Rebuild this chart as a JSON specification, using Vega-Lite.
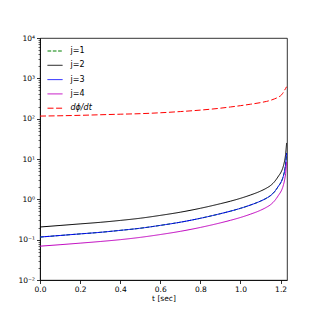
{
  "$schema": "https://vega.github.io/schema/vega-lite/v6.json",
  "autosize": "none",
  "width": 247,
  "height": 242,
  "padding": {"left": 40, "top": 38, "right": 33, "bottom": 40},
  "background": "white",
  "config": {
    "font": "DejaVu Sans",
    "view": {"stroke": "black", "strokeWidth": 0.8},
    "axis": {"grid": false, "labelFlush": false, "domainColor": "black", "domainWidth": 0.8, "tickColor": "black", "tickWidth": 0.8, "labelColor": "black", "labelFont": "DejaVu Sans", "titleFont": "DejaVu Sans", "titleColor": "black"},
    "legend": {"title": null, "orient": "none", "legendX": 7, "legendY": 5, "padding": 0, "symbolType": "stroke", "symbolSize": 225, "labelFontSize": 8, "labelOffset": 7.5, "rowPadding": 2.3, "labelFont": "DejaVu Sans", "labelColor": "black"}
  },
  "data": {"values": [
    {"t":0,"v":0.116,"s":"j=1"},{"t":0.1,"v":0.127,"s":"j=1"},{"t":0.2,"v":0.139,"s":"j=1"},{"t":0.3,"v":0.152,"s":"j=1"},{"t":0.4,"v":0.170,"s":"j=1"},{"t":0.5,"v":0.192,"s":"j=1"},{"t":0.6,"v":0.226,"s":"j=1"},{"t":0.7,"v":0.271,"s":"j=1"},{"t":0.8,"v":0.339,"s":"j=1"},{"t":0.9,"v":0.441,"s":"j=1"},{"t":0.95,"v":0.509,"s":"j=1"},{"t":1.0,"v":0.599,"s":"j=1"},{"t":1.05,"v":0.723,"s":"j=1"},{"t":1.1,"v":0.904,"s":"j=1"},{"t":1.13,"v":1.07,"s":"j=1"},{"t":1.15,"v":1.24,"s":"j=1"},{"t":1.17,"v":1.55,"s":"j=1"},{"t":1.18,"v":1.81,"s":"j=1"},{"t":1.19,"v":2.15,"s":"j=1"},{"t":1.2,"v":2.54,"s":"j=1"},{"t":1.21,"v":3.28,"s":"j=1"},{"t":1.215,"v":3.96,"s":"j=1"},{"t":1.22,"v":5.09,"s":"j=1"},{"t":1.225,"v":7.35,"s":"j=1"},{"t":1.23,"v":14.1,"s":"j=1"},
    {"t":0,"v":0.206,"s":"j=2"},{"t":0.1,"v":0.225,"s":"j=2"},{"t":0.2,"v":0.246,"s":"j=2"},{"t":0.3,"v":0.269,"s":"j=2"},{"t":0.4,"v":0.300,"s":"j=2"},{"t":0.5,"v":0.340,"s":"j=2"},{"t":0.6,"v":0.400,"s":"j=2"},{"t":0.7,"v":0.480,"s":"j=2"},{"t":0.8,"v":0.600,"s":"j=2"},{"t":0.9,"v":0.780,"s":"j=2"},{"t":0.95,"v":0.900,"s":"j=2"},{"t":1.0,"v":1.06,"s":"j=2"},{"t":1.05,"v":1.28,"s":"j=2"},{"t":1.1,"v":1.60,"s":"j=2"},{"t":1.13,"v":1.90,"s":"j=2"},{"t":1.15,"v":2.20,"s":"j=2"},{"t":1.17,"v":2.75,"s":"j=2"},{"t":1.18,"v":3.20,"s":"j=2"},{"t":1.19,"v":3.80,"s":"j=2"},{"t":1.2,"v":4.50,"s":"j=2"},{"t":1.21,"v":5.80,"s":"j=2"},{"t":1.215,"v":7.00,"s":"j=2"},{"t":1.22,"v":9.00,"s":"j=2"},{"t":1.225,"v":13.0,"s":"j=2"},{"t":1.23,"v":25.0,"s":"j=2"},
    {"t":0,"v":0.116,"s":"j=3"},{"t":0.1,"v":0.127,"s":"j=3"},{"t":0.2,"v":0.139,"s":"j=3"},{"t":0.3,"v":0.152,"s":"j=3"},{"t":0.4,"v":0.170,"s":"j=3"},{"t":0.5,"v":0.192,"s":"j=3"},{"t":0.6,"v":0.226,"s":"j=3"},{"t":0.7,"v":0.271,"s":"j=3"},{"t":0.8,"v":0.339,"s":"j=3"},{"t":0.9,"v":0.441,"s":"j=3"},{"t":0.95,"v":0.509,"s":"j=3"},{"t":1.0,"v":0.599,"s":"j=3"},{"t":1.05,"v":0.723,"s":"j=3"},{"t":1.1,"v":0.904,"s":"j=3"},{"t":1.13,"v":1.07,"s":"j=3"},{"t":1.15,"v":1.24,"s":"j=3"},{"t":1.17,"v":1.55,"s":"j=3"},{"t":1.18,"v":1.81,"s":"j=3"},{"t":1.19,"v":2.15,"s":"j=3"},{"t":1.2,"v":2.54,"s":"j=3"},{"t":1.21,"v":3.28,"s":"j=3"},{"t":1.215,"v":3.96,"s":"j=3"},{"t":1.22,"v":5.09,"s":"j=3"},{"t":1.225,"v":7.35,"s":"j=3"},{"t":1.23,"v":14.1,"s":"j=3"},
    {"t":0,"v":0.069,"s":"j=4"},{"t":0.1,"v":0.075,"s":"j=4"},{"t":0.2,"v":0.082,"s":"j=4"},{"t":0.3,"v":0.090,"s":"j=4"},{"t":0.4,"v":0.100,"s":"j=4"},{"t":0.5,"v":0.114,"s":"j=4"},{"t":0.6,"v":0.134,"s":"j=4"},{"t":0.7,"v":0.161,"s":"j=4"},{"t":0.8,"v":0.201,"s":"j=4"},{"t":0.9,"v":0.261,"s":"j=4"},{"t":0.95,"v":0.302,"s":"j=4"},{"t":1.0,"v":0.355,"s":"j=4"},{"t":1.05,"v":0.429,"s":"j=4"},{"t":1.1,"v":0.536,"s":"j=4"},{"t":1.13,"v":0.637,"s":"j=4"},{"t":1.15,"v":0.737,"s":"j=4"},{"t":1.17,"v":0.921,"s":"j=4"},{"t":1.18,"v":1.07,"s":"j=4"},{"t":1.19,"v":1.27,"s":"j=4"},{"t":1.2,"v":1.51,"s":"j=4"},{"t":1.21,"v":1.94,"s":"j=4"},{"t":1.215,"v":2.35,"s":"j=4"},{"t":1.22,"v":3.02,"s":"j=4"},{"t":1.225,"v":4.36,"s":"j=4"},{"t":1.23,"v":8.4,"s":"j=4"},
    {"t":0,"v":116,"s":"dϕ/dt"},{"t":0.1,"v":118,"s":"dϕ/dt"},{"t":0.2,"v":121,"s":"dϕ/dt"},{"t":0.3,"v":125,"s":"dϕ/dt"},{"t":0.4,"v":129,"s":"dϕ/dt"},{"t":0.5,"v":133,"s":"dϕ/dt"},{"t":0.6,"v":140,"s":"dϕ/dt"},{"t":0.7,"v":150,"s":"dϕ/dt"},{"t":0.8,"v":163,"s":"dϕ/dt"},{"t":0.9,"v":182,"s":"dϕ/dt"},{"t":0.95,"v":195,"s":"dϕ/dt"},{"t":1.0,"v":210,"s":"dϕ/dt"},{"t":1.05,"v":228,"s":"dϕ/dt"},{"t":1.1,"v":250,"s":"dϕ/dt"},{"t":1.13,"v":268,"s":"dϕ/dt"},{"t":1.15,"v":285,"s":"dϕ/dt"},{"t":1.17,"v":310,"s":"dϕ/dt"},{"t":1.18,"v":325,"s":"dϕ/dt"},{"t":1.19,"v":345,"s":"dϕ/dt"},{"t":1.2,"v":370,"s":"dϕ/dt"},{"t":1.21,"v":420,"s":"dϕ/dt"},{"t":1.215,"v":460,"s":"dϕ/dt"},{"t":1.22,"v":510,"s":"dϕ/dt"},{"t":1.225,"v":560,"s":"dϕ/dt"},{"t":1.23,"v":620,"s":"dϕ/dt"}
  ]},
  "mark": {"type": "line", "interpolate": "monotone", "clip": true},
  "encoding": {
    "x": {
      "field": "t", "type": "quantitative",
      "scale": {"domain": [0, 1.232], "nice": false, "zero": false},
      "axis": {"values": [0, 0.2, 0.4, 0.6, 0.8, 1.0, 1.2], "format": ".1f", "title": "t [sec]", "tickSize": 3.5, "labelFontSize": 7.5, "titleFontSize": 7.5, "titleFontWeight": "normal", "labelPadding": 1.5, "titlePadding": 2}
    },
    "y": {
      "field": "v", "type": "quantitative",
      "scale": {"type": "log", "domain": [0.01, 10000], "nice": false},
      "axis": {
        "title": null,
        "values": [0.01,0.02,0.03,0.04,0.05,0.06,0.07,0.08,0.09,0.1,0.2,0.3,0.4,0.5,0.6,0.7,0.8,0.9,1,2,3,4,5,6,7,8,9,10,20,30,40,50,60,70,80,90,100,200,300,400,500,600,700,800,900,1000,2000,3000,4000,5000,6000,7000,8000,9000,10000],
        "labelOverlap": false,
        "labelFontSize": 7.5,
        "labelPadding": 2,
        "tickSize": {"condition": {"test": "abs(log(datum.value)/LN10 - round(log(datum.value)/LN10)) < 0.000001", "value": 3.5}, "value": 2},
        "tickWidth": {"condition": {"test": "abs(log(datum.value)/LN10 - round(log(datum.value)/LN10)) < 0.000001", "value": 0.8}, "value": 0.6},
        "labelExpr": "abs(log(datum.value)/LN10 - round(log(datum.value)/LN10)) > 0.000001 ? '' : (round(log(datum.value)/LN10) == -2 ? '10⁻²' : round(log(datum.value)/LN10) == -1 ? '10⁻¹' : round(log(datum.value)/LN10) == 0 ? '10⁰' : round(log(datum.value)/LN10) == 1 ? '10¹' : round(log(datum.value)/LN10) == 2 ? '10²' : round(log(datum.value)/LN10) == 3 ? '10³' : '10⁴')"
      }
    },
    "color": {
      "field": "s", "type": "nominal",
      "scale": {"domain": ["j=1", "j=2", "j=3", "j=4", "dϕ/dt"], "range": ["#008000", "#000000", "#0000ff", "#bf00bf", "#ff0000"]},
      "legend": {"encode": {"labels": {"update": {"fontStyle": {"signal": "datum.label == 'dϕ/dt' ? 'italic' : 'normal'"}}}}}
    },
    "strokeDash": {
      "field": "s", "type": "nominal",
      "scale": {"domain": ["j=1", "j=2", "j=3", "j=4", "dϕ/dt"], "range": [[3.7, 1.6], [1, 0], [1, 0], [1, 0], [6, 2.6]]},
      "legend": {"encode": {"labels": {"update": {"fontStyle": {"signal": "datum.label == 'dϕ/dt' ? 'italic' : 'normal'"}}}}}
    },
    "strokeWidth": {
      "field": "s", "type": "nominal",
      "scale": {"domain": ["j=1", "j=2", "j=3", "j=4", "dϕ/dt"], "range": [1, 1, 1, 1, 1.6]},
      "legend": {"encode": {"labels": {"update": {"fontStyle": {"signal": "datum.label == 'dϕ/dt' ? 'italic' : 'normal'"}}}}}
    },
    "order": {"field": "t", "type": "quantitative"}
  }
}
